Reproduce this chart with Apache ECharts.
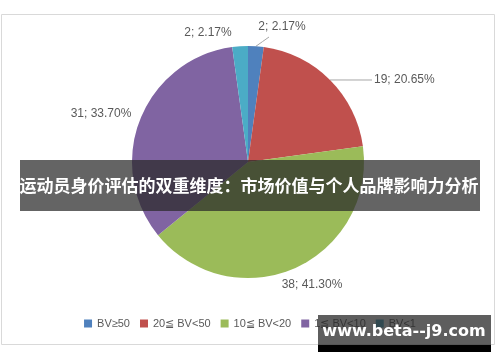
<!DOCTYPE html>
<html><head><meta charset="utf-8">
<script src="https://cdn.jsdelivr.net/npm/echarts@6/dist/echarts.min.js"></script>
<style>html,body{margin:0;padding:0;background:#fff}#c{width:500px;height:362px}</style>
</head><body><div id="c"></div>
<script>
var categories = ['BV≥50', '20≦ BV<50', '10≦ BV<20', '1≦ BV<10', 'BV<1'];
var values = [2, 19, 38, 31, 2];
var colors = ['#4F81BD', '#C0504D', '#9BBB59', '#8064A2', '#4BACC6'];
var title = '运动员身价评估的双重维度：市场价值与个人品牌影响力分析';
var watermark = 'www.beta--j9.com';

var total = values.reduce(function(a,b){return a+b;},0);
var labelPos = [
  {x: 282, y: 27, align: 'center', line: true, end: [269, 37]},
  {x: 374, y: 80, align: 'left', line: true, end: [372, 80]},
  {x: 312, y: 285, align: 'center', line: false},
  {x: 101, y: 114, align: 'center', line: false},
  {x: 208, y: 33, align: 'center', line: false}
];
var chart = echarts.init(document.getElementById('c'));
chart.setOption({
  animation: false,
  color: colors,
  legend: {
    bottom: 28, left: 'center',
    itemWidth: 8, itemHeight: 8, itemGap: 10, icon: 'rect',
    textStyle: {color: '#595959', fontSize: 11, fontFamily: 'Liberation Sans'},
    data: categories
  },
  series: [{
    type: 'pie',
    center: [248, 162],
    radius: 116,
    startAngle: 90,
    clockwise: true,
    data: categories.map(function(n,i){
      return {name:n, value:values[i], labelLine:{show: labelPos[i].line}};
    }),
    itemStyle: {borderWidth: 0},
    label: {
      show: true,
      color: '#595959', fontSize: 12, fontFamily: 'Liberation Sans',
      formatter: function(p){ return p.value + '; ' + (p.value/total*100).toFixed(2) + '%'; }
    },
    labelLine: {show: true, length: 10, length2: 20, lineStyle: {color: '#a6a6a6'}},
    labelLayout: function(p){
      var lp = labelPos[p.dataIndex];
      var r = {x: lp.x, y: lp.y, align: lp.align, verticalAlign: 'middle'};
      if (lp.line && p.labelLinePoints) {
        var s = p.labelLinePoints[0];
        r.labelLinePoints = [s, [(s[0]+lp.end[0])/2, (s[1]+lp.end[1])/2], lp.end];
      }
      return r;
    },
    emphasis: {disabled: true}
  }],
  graphic: [
    {type:'rect', shape:{x:1.5,y:14.5,width:493,height:330}, style:{fill:'none', stroke:'#d9d9d9', lineWidth:1}, z:-1},
    {type:'rect', shape:{x:20,y:160,width:460,height:51}, style:{fill:'rgba(40,40,40,0.72)'}, z:100},
    {type:'text', x:249, y:186, style:{text:title, fill:'#fff', font:'bold 17px "Noto Sans CJK SC"', align:'center', verticalAlign:'middle'}, z:101},
    {type:'rect', shape:{x:318,y:315,width:173,height:30}, style:{fill:'rgba(40,40,40,0.75)'}, z:100},
    {type:'rect', shape:{x:318,y:345,width:173,height:7}, style:{fill:'#000'}, z:100},
    {type:'text', x:404, y:332, style:{text:watermark, fill:'#fff', font:'bold 16px "DejaVu Sans"', align:'center', verticalAlign:'middle'}, z:101}
  ]
});
</script></body></html>
